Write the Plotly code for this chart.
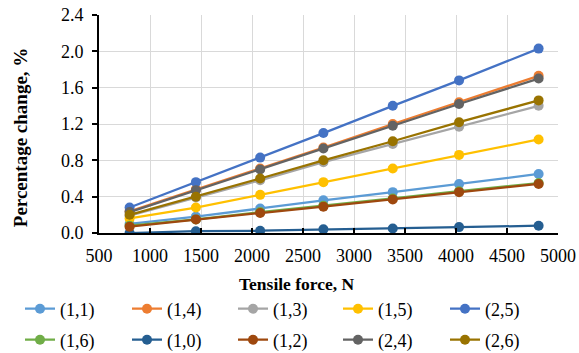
import plotly.graph_objects as go

force = [800, 1450, 2080, 2700, 3380, 4030, 4810]

names = ["(1,1)", "(1,4)", "(1,3)", "(1,5)", "(2,5)",
         "(1,6)", "(1,0)", "(1,2)", "(2,4)", "(2,6)"]

s11 = [0.10, 0.18, 0.27, 0.36, 0.45, 0.54, 0.65]
s14 = [0.24, 0.48, 0.71, 0.94, 1.20, 1.44, 1.73]
s13 = [0.19, 0.39, 0.58, 0.78, 0.98, 1.17, 1.40]
s15 = [0.16, 0.28, 0.42, 0.56, 0.71, 0.86, 1.03]
s25 = [0.28, 0.56, 0.83, 1.10, 1.40, 1.68, 2.03]
s16 = [0.08, 0.15, 0.23, 0.30, 0.38, 0.46, 0.55]
s10 = [0.00, 0.02, 0.025, 0.04, 0.05, 0.065, 0.08]
s12 = [0.07, 0.15, 0.22, 0.29, 0.37, 0.45, 0.54]
s24 = [0.23, 0.47, 0.70, 0.93, 1.18, 1.42, 1.70]
s26 = [0.20, 0.40, 0.60, 0.80, 1.01, 1.22, 1.46]

series = [s11, s14, s13, s15, s25, s16, s10, s12, s24, s26]
colors = ["#5B9BD5", "#ED7D31", "#A5A5A5", "#FFC000", "#4472C4",
          "#70AD47", "#255E91", "#9E480E", "#636363", "#997300"]

x_title = "Tensile force, N"
y_title = "Percentage change, %"

W, H = 579, 353
L, R, T, B = 99, 21, 15, 119.5
PW, PH = W - L - R, H - T - B
col_x = [20, 127, 233, 338, 445]   # legend column left edges (px)
row_y = [309, 340]                 # legend row centres (px from top)

font = "Liberation Serif, Times New Roman, serif"

fig = go.Figure()
legends = {}
for i, (n, s, c) in enumerate(zip(names, series, colors)):
    key = "legend" if i == 0 else f"legend{i + 1}"
    fig.add_trace(go.Scatter(
        x=force, y=s, name=n, mode="lines+markers",
        line=dict(color=c, width=2.25),
        marker=dict(color=c, size=10),
        legend=key,
    ))
    legends[key] = dict(
        orientation="h", xref="container", yref="container",
        x=col_x[i % 5] / W, y=(H - row_y[i // 5]) / H,
        xanchor="left", yanchor="middle", itemwidth=30,
        font=dict(family=font, size=18, color="black"),
        bgcolor="rgba(0,0,0,0)",
    )

fig.update_layout(
    width=W, height=H,
    margin=dict(l=L, r=R, t=T, b=B),
    paper_bgcolor="white", plot_bgcolor="white",
    font=dict(family=font, size=18, color="black"),
    showlegend=True,
    **legends,
    xaxis=dict(
        range=[500, 5000], dtick=500, tick0=500,
        showgrid=True, gridcolor="#D9D9D9", gridwidth=1,
        showline=True, linecolor="black", linewidth=2,
        ticks="inside", ticklen=5, tickcolor="black", tickwidth=1.5,
        zeroline=False, automargin=False, ticklabelstandoff=5,
        tickfont=dict(family=font, size=18, color="black"),
    ),
    yaxis=dict(
        range=[0, 2.4], dtick=0.4, tick0=0, tickformat=".1f",
        showgrid=True, gridcolor="#D9D9D9", gridwidth=1,
        showline=True, linecolor="black", linewidth=2,
        ticks="outside", ticklen=5, tickcolor="black", tickwidth=1.5,
        zeroline=False, automargin=False, ticklabelstandoff=5,
        tickfont=dict(family=font, size=18, color="black"),
    ),
    annotations=[
        dict(
            text=f"<b>{y_title}</b>", textangle=-90,
            xref="paper", yref="paper",
            x=(20 - L) / PW, y=(T + PH - 137.5) / PH,
            xanchor="center", yanchor="middle", showarrow=False,
            font=dict(family=font, size=19, color="black"),
        ),
        dict(
            text=f"<b>{x_title}</b>",
            xref="paper", yref="paper",
            x=(296.5 - L) / PW, y=(T + PH - 285) / PH,
            xanchor="center", yanchor="middle", showarrow=False,
            font=dict(family=font, size=17.5, color="black"),
        ),
    ],
)

fig.write_html("out.html")
